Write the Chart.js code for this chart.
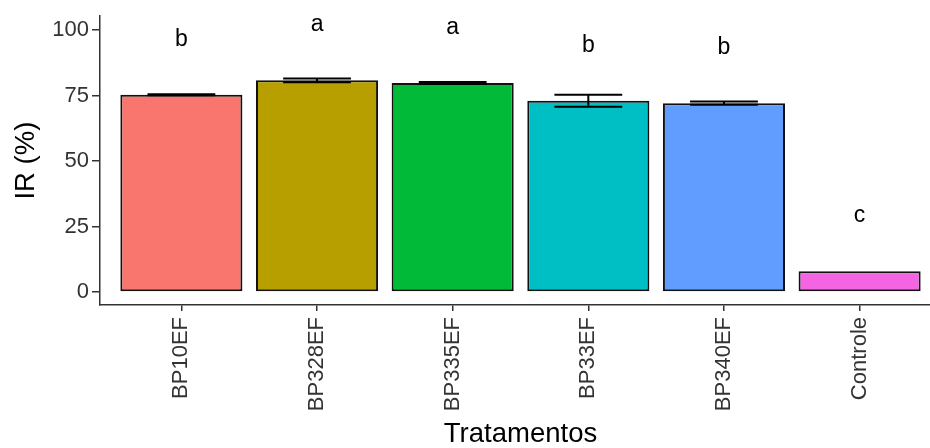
<!DOCTYPE html>
<html>
<head>
<meta charset="utf-8">
<script src="https://cdn.jsdelivr.net/npm/chart.js@4.4.1/dist/chart.umd.min.js"></script>
<style>
  html, body { margin: 0; padding: 0; background: #fff; overflow: hidden; }
  /* plot panel runs a little past the right edge of the window, as in the reference */
  #wrap { width: 941px; height: 448px; }
</style>
</head>
<body>
<div id="wrap"><canvas id="irChart" width="941" height="448"></canvas></div>
<script>
  // values
  const tratamentos = ['BP10EF', 'BP328EF', 'BP335EF', 'BP33EF', 'BP340EF', 'Controle'];
  const irMedia = [75.3, 80.8, 79.8, 73.0, 72.1, 7.9];
  const irErro = [0.2, 0.75, 0.4, 2.3, 0.63, 0];
  const letras = ['b', 'a', 'a', 'b', 'b', 'c'];
  const corBarra = ['#F8766D', '#B79F00', '#00BA38', '#00BFC4', '#619CFF', '#F564E3'];
  const yTicks = [0, 25, 50, 75, 100];

  const FONT = "'Liberation Sans', Arial, sans-serif";

  // error bars + significance letters, drawn through the scales
  const extras = {
    id: 'extras',
    afterDatasetsDraw(chart) {
      const { ctx, scales: { x, y } } = chart;
      ctx.save();
      ctx.strokeStyle = '#000';
      ctx.lineWidth = 2;
      irMedia.forEach((v, i) => {
        if (!irErro[i]) return;
        const cx = x.getPixelForValue(i);
        const half = (x.getPixelForValue(i + 0.25) - cx);
        const yHi = y.getPixelForValue(v + irErro[i]);
        const yLo = y.getPixelForValue(v - irErro[i]);
        ctx.beginPath();
        ctx.moveTo(cx - half, yHi); ctx.lineTo(cx + half, yHi);
        ctx.moveTo(cx - half, yLo); ctx.lineTo(cx + half, yLo);
        ctx.moveTo(cx, yHi); ctx.lineTo(cx, yLo);
        ctx.stroke();
      });
      ctx.fillStyle = '#000';
      ctx.font = '23px ' + FONT;
      ctx.textAlign = 'center';
      ctx.textBaseline = 'alphabetic';
      letras.forEach((l, i) => {
        ctx.fillText(l, x.getPixelForValue(i), y.getPixelForValue(irMedia[i] + 18.7));
      });
      ctx.restore();
    }
  };

  new Chart(document.getElementById('irChart'), {
    type: 'bar',
    data: {
      datasets: [{
        data: irMedia.map((v, i) => ({ x: i, y: v })),
        backgroundColor: corBarra,
        borderColor: '#111',
        borderWidth: 2,
        borderSkipped: false,
        categoryPercentage: 1,
        barPercentage: 0.9,
      }]
    },
    plugins: [extras],
    options: {
      responsive: false,
      animation: false,
      layout: { padding: { top: 16, right: 0, left: 0, bottom: 0 } },
      plugins: { legend: { display: false }, tooltip: { enabled: false } },
      scales: {
        x: {
          type: 'linear',
          offset: false,
          min: -0.6,
          max: 5.6,
          afterBuildTicks: (s) => { s.ticks = tratamentos.map((_, i) => ({ value: i })); },
          afterFit: (s) => { s.height = 143; },
          grid: { drawOnChartArea: false, offset: false, color: '#333', tickLength: 6, lineWidth: 1.5 },
          border: { color: '#333', width: 1.5 },
          ticks: {
            minRotation: 90, maxRotation: 90, padding: 6,
            color: '#333', font: { family: FONT, size: 22 },
            callback: (v) => tratamentos[v]
          },
          title: {
            display: true, text: 'Tratamentos', color: '#000',
            font: { family: FONT, size: 27.5, lineHeight: 1 }, padding: 0
          }
        },
        y: {
          min: -4.96,
          max: 105.3,
          afterBuildTicks: (s) => { s.ticks = yTicks.map(v => ({ value: v })); },
          afterFit: (s) => { s.width = 100; },
          grid: { drawOnChartArea: false, color: '#333', tickLength: 8, lineWidth: 1.5 },
          border: { color: '#333', width: 1.5 },
          ticks: { padding: 3, color: '#333', font: { family: FONT, size: 22 } },
          title: {
            display: true, text: 'IR (%)', color: '#000',
            font: { family: FONT, size: 27.5, lineHeight: 1 }, padding: { top: 12.5, bottom: 0 }
          }
        }
      }
    }
  });
</script>
</body>
</html>
